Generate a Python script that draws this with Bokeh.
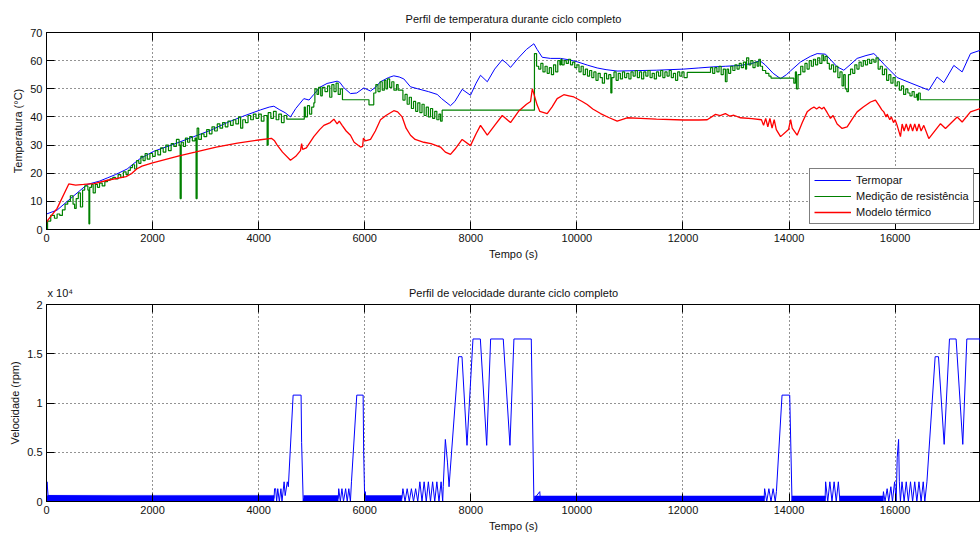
from bokeh.plotting import figure
from bokeh.layouts import column
from bokeh.models import Range1d, FixedTicker, LinearAxis, CustomJSTickFormatter, Legend
from bokeh.embed import file_html
from bokeh.resources import INLINE

FONT = "Liberation Sans"

# ---------------- data: temperature (°C) vs time (s) ----------------
termopar_t = [0, 200, 516, 767, 1000, 1144, 1300, 1521, 1650, 1773, 2024, 2400, 2778, 3100, 3407, 3700,
              4035, 4200, 4287, 4400, 4500, 4600, 4700, 4852, 4950, 5040, 5150, 5291, 5480, 5530, 5600,
              5731, 5850, 5983, 6109, 6200, 6297, 6450, 6548, 6650, 6737, 6863, 7000, 7200, 7366, 7450,
              7617, 7700, 7837, 7994, 8100, 8183, 8311, 8450, 8593, 8680, 8749, 8900, 9050, 9189, 9250,
              9346, 9500, 9691, 9850, 10006, 10200, 10383, 10550, 10760, 11000, 11500, 12017, 12300,
              12582, 12800, 13085, 13300, 13450, 13550, 13700, 13840, 13950, 14025, 14215, 14400, 14530,
              14687, 14800, 14907, 15033, 15150, 15284, 15450, 15599, 15661, 15800, 16038, 16300, 16635,
              16792, 16918, 17107, 17264, 17421, 17610, 17660]
termopar_v = [5.5, 6.9, 12.0, 16.0, 17.2, 18.3, 19.5, 21.5, 23.5, 25.3, 27.8, 30.3, 33.0, 35.3, 38.0, 40.2,
              42.5, 43.5, 43.8, 42.5, 41.5, 40.0, 43.0, 46.5, 46.0, 48.0, 50.5, 51.9, 52.7, 52.3, 50.5,
              48.3, 48.5, 50.3, 49.2, 50.5, 52.5, 54.0, 54.6, 54.2, 53.5, 50.7, 50.0, 49.0, 48.0, 46.5,
              44.0, 45.5, 49.8, 47.7, 52.0, 54.8, 52.5, 57.0, 60.3, 59.0, 57.6, 61.0, 64.0, 66.0, 64.0,
              61.2, 60.8, 60.8, 60.3, 59.6, 58.4, 57.4, 56.8, 56.3, 56.4, 56.6, 57.0, 57.4,
              57.8, 58.0, 58.3, 59.0, 60.0, 58.5, 55.5, 53.6, 55.0, 56.3, 59.5, 61.5, 62.5,
              62.3, 60.0, 57.8, 56.6, 58.5, 60.8, 61.8, 62.5, 61.4, 58.5, 54.0, 52.0, 49.5,
              54.2, 52.2, 58.3, 56.0, 62.5, 63.7, 63.9]

resist_t = [0, 20, 80, 150, 200, 250, 300, 350, 400, 450, 500, 530, 560, 600, 640, 680, 720, 780, 800, 815,
            850, 880, 920, 960, 1000, 1050, 1100, 1150, 1200, 1250, 1300, 1350, 1400, 1450, 1500, 1540,
            1580, 1620, 1660, 1700, 1740, 1780, 1820, 1860, 1900, 1950, 2000, 2050, 2100, 2150, 2200,
            2250, 2300, 2350, 2400, 2450, 2500, 2520, 2540, 2580, 2620, 2660, 2700, 2750, 2800, 2820,
            2840, 2870, 2920, 2970, 3020, 3070, 3120, 3170, 3220, 3270, 3320, 3370, 3420, 3470, 3520,
            3570, 3620, 3660, 3700, 3750, 3800, 3850, 3900, 3950, 4000, 4050, 4100, 4160, 4180, 4230,
            4280, 4330, 4380, 4430, 4480, 4530, 4860, 4880, 4920, 4960, 5000, 5040, 5060, 5100, 5130,
            5170, 5200, 5250, 5300, 5340, 5380, 5420, 5460, 5500, 5540, 5580, 6080, 6170, 6210, 6250,
            6290, 6330, 6370, 6400, 6430, 6470, 6510, 6550, 6600, 6630, 6720, 6760, 6800, 6840, 6880,
            6920, 6960, 7000, 7040, 7080, 7120, 7160, 7200, 7240, 7280, 7320, 7360, 7400, 7430, 7460,
            9200, 9240, 9280, 9320, 9360, 9400, 9440, 9480, 9520, 9560, 9600, 9640, 9680, 9700, 9720,
            9760, 9800, 9840, 9880, 9920, 9960, 10000, 10040, 10080, 10120, 10160, 10200, 10240, 10280,
            10320, 10360, 10400, 10440, 10480, 10520, 10560, 10600, 10640, 10660, 10700, 10740, 10780,
            10820, 10860, 10900, 10940, 10980, 11020, 11060, 11100, 11140, 11180, 11220, 11260, 11300,
            11340, 11380, 11420, 11460, 11500, 11540, 11580, 11620, 11660, 11700, 11740, 11780, 11820,
            11860, 11900, 11940, 11980, 12020, 12080, 12520, 12560, 12600, 12640, 12680, 12720, 12760,
            12800, 12830, 12860, 12900, 12940, 12980, 13020, 13060, 13100, 13140, 13180, 13200, 13240,
            13280, 13320, 13360, 13400, 13430, 13460, 13500, 13560, 13620, 13660, 14090, 14120, 14140,
            14170, 14220, 14260, 14300, 14340, 14380, 14420, 14460, 14500, 14540, 14580, 14620, 14650,
            14680, 14720, 14760, 14800, 14840, 14880, 14920, 14960, 15000, 15030, 15060, 15090, 15120,
            15160, 15200, 15240, 15280, 15320, 15360, 15400, 15440, 15480, 15520, 15560, 15600, 15640,
            15680, 15720, 15760, 15800, 15840, 15880, 15920, 15960, 16000, 16040, 16080, 16120, 16160,
            16200, 16240, 16280, 16320, 16360, 16400, 16420, 16440, 16474, 17660]
resist_v = [0.0, 3.0, 5.0, 4.0, 5.5, 5.0, 7.0, 9.0, 10.0, 12.0, 9.0, 7.5, 11.0, 13.0, 8.0, 14.0, 15.5, 14.0, 2.0, 15.0,
            16.0, 13.0, 16.0, 15.0, 16.5, 15.5, 17.0, 17.5, 18.0, 18.5, 18.0, 19.5, 18.5, 20.5, 19.5, 21.0,
            22.0, 23.0, 21.5, 24.5, 23.5, 26.0, 24.5, 27.0, 25.0, 27.0, 26.0, 28.0, 26.5, 29.0, 27.5,
            30.0, 28.0, 30.5, 29.5, 32.0, 30.0, 11.0, 31.0, 29.5, 32.5, 31.0, 33.0, 31.5, 32.5, 11.0,
            36.0, 32.0, 34.0, 33.0, 35.5, 34.0, 36.5, 35.0, 37.5, 36.0, 38.0, 36.5, 38.5, 37.0, 39.0,
            37.5, 40.0, 36.0, 39.0, 38.0, 40.5, 39.0, 41.0, 39.5, 41.0, 38.5, 40.5, 30.0, 41.5, 39.5,
            42.0, 39.0, 41.0, 38.0, 40.5, 39.2, 43.5, 40.0, 44.0, 41.0, 43.5, 45.0, 50.0, 48.0, 50.5,
            47.5, 50.5, 49.0, 51.0, 47.0, 51.5, 49.0, 52.0, 48.0, 50.0, 46.1, 44.3, 48.5, 51.5, 49.0,
            52.5, 49.5, 53.0, 50.0, 53.5, 50.5, 52.5, 49.5, 51.5, 49.5, 46.0, 48.0, 44.5, 47.0, 43.0,
            45.5, 42.0, 45.0, 41.5, 44.5, 40.5, 43.5, 40.0, 43.0, 39.5, 42.0, 39.0, 41.0, 38.5, 42.4,
            62.5, 58.0, 57.0, 59.0, 56.0, 58.0, 55.5, 57.5, 55.0, 58.5, 56.0, 60.0, 58.5, 60.5, 58.5,
            60.0, 59.0, 60.5, 58.5, 59.5, 57.5, 58.5, 56.0, 58.0, 55.0, 57.0, 54.5, 56.5, 54.0,
            56.0, 53.0, 55.5, 54.0, 52.0, 55.5, 53.5, 55.0, 48.5, 54.0, 56.0, 53.0, 55.5,
            53.5, 56.0, 54.0, 55.5, 53.5, 56.0, 54.5, 56.5, 54.0, 56.0, 53.5, 56.0, 54.5,
            56.5, 54.0, 55.5, 53.5, 56.0, 54.5, 56.5, 54.0, 56.0, 54.5, 56.5, 54.0, 55.5,
            53.0, 56.0, 54.5, 56.0, 54.0, 55.8, 57.5, 55.5, 57.5, 56.0, 58.0, 55.0, 57.0,
            52.5, 57.0, 55.5, 58.0, 56.5, 58.5, 57.0, 59.0, 57.5, 59.5, 57.0, 61.0, 58.5,
            60.0, 57.5, 59.5, 58.0, 60.5, 58.0, 56.5, 55.5, 54.5, 53.8, 52.0, 56.0, 50.0,
            55.0, 58.0, 56.0, 59.0, 57.0, 60.0, 58.0, 60.5, 58.5, 61.0, 59.0, 62.0, 60.0,
            61.5, 59.0, 57.0, 58.5, 56.0, 58.0, 54.0, 56.0, 51.0, 55.0, 50.0, 49.0, 55.0,
            57.0, 55.5, 58.5, 57.0, 59.5, 58.0, 60.0, 58.5, 60.5, 59.0, 60.5, 59.5, 61.0,
            57.0, 58.0, 55.0, 57.0, 53.0, 55.0, 52.0, 54.0, 51.0, 52.5, 49.5, 51.0, 48.0,
            50.0, 48.5, 47.5, 49.0, 47.0, 48.0, 46.0, 48.5, 46.1, 46.1]

modelo_t = [0, 25, 200, 420, 550, 700, 900, 1150, 1500, 1600, 1700, 1800, 2000, 2500, 2800, 3200, 3600,
            4000, 4240, 4300, 4350, 4450, 4600, 4700, 4789, 4810, 4830, 4900, 5040, 5150, 5229, 5350,
            5418, 5480, 5520, 5574, 5650, 5731, 5800, 5920, 5960, 5975, 6014, 6109, 6200, 6297, 6400,
            6548, 6620, 6706, 6780, 6863, 6950, 7114, 7250, 7428, 7520, 7617, 7700, 7837, 7994, 8100,
            8183, 8311, 8450, 8593, 8749, 8900, 9050, 9127, 9160, 9177, 9251, 9300, 9440, 9530, 9628,
            9754, 9850, 9943, 10100, 10194, 10300, 10446, 10600, 10760, 10948, 11200, 11500, 12017,
            12300, 12457, 12614, 12700, 12800, 12880, 12960, 13085, 13300, 13480, 13520, 13560, 13600,
            13640, 13680, 13720, 13760, 13840, 13990, 14030, 14060, 14153, 14250, 14342, 14420, 14470,
            14520, 14570, 14620, 14656, 14720, 14781, 14830, 14907, 15001, 15096, 15200, 15284, 15400,
            15536, 15630, 15700, 15750, 15787, 15830, 15850, 15900, 15930, 15970, 16000, 16038, 16101,
            16133, 16170, 16210, 16250, 16290, 16330, 16370, 16410, 16450, 16490, 16541, 16635, 16856,
            16950, 17170, 17264, 17421, 17610, 17660]
modelo_v = [2.5, 3.3, 7.5, 16.2, 15.8, 16.0, 16.3, 17.5, 18.8, 19.8, 21.5, 22.5, 23.7, 26.2, 27.5, 29.3, 30.7,
            31.8, 32.4, 31.5, 30.0, 27.5, 24.6, 26.0, 28.0, 30.5, 28.5, 29.0, 33.0, 35.5, 37.0, 38.0,
            39.2, 37.5, 38.5, 37.0, 35.0, 33.5, 31.0, 29.3, 29.5, 32.5, 31.5, 32.0, 35.0, 39.0, 40.5,
            42.2, 41.8, 40.0, 36.0, 33.5, 32.0, 31.0, 30.5, 29.3, 27.5, 26.7, 28.5, 32.0, 29.8, 34.0,
            37.0, 33.5, 37.0, 40.5, 38.0, 42.0, 44.5, 45.5, 50.0, 49.0, 44.2, 42.0, 41.2, 43.5, 46.5,
            47.9, 47.5, 47.1, 45.5, 44.4, 42.8, 41.2, 39.8, 38.5, 39.7, 39.5, 39.2, 38.9,
            38.9, 39.0, 40.9, 40.5, 41.2, 40.3, 40.6, 39.7, 39.4, 39.0, 37.0, 39.5, 36.5,
            39.5, 36.0, 39.0, 35.5, 33.0, 35.5, 39.0, 36.0, 33.5, 38.0, 41.8, 43.0, 43.5,
            42.8, 43.5, 42.8, 43.5, 41.5, 39.5, 40.5, 37.5, 35.9, 36.5, 39.5, 41.8, 43.5,
            45.3, 46.0, 44.0, 42.5, 41.8, 40.0, 41.0, 39.0, 40.0, 38.0, 39.0, 37.0, 33.0,
            37.5, 35.0, 37.5, 35.0, 37.5, 35.0, 37.5, 35.0, 37.5, 35.0, 37.0, 32.3, 37.6,
            35.9, 40.0, 38.2, 41.8, 43.0, 43.2]

# ---------------- data: speed (rpm) vs time (s) ----------------
speed_t = [0, 10, 30, 4290, 4300, 4320, 4340, 4360, 4390, 4420, 4440, 4480, 4500, 4540, 4560, 4650, 4800,
           4810, 4840, 4850, 5500, 5510, 5540, 5570, 5600, 5640, 5670, 5700, 5730, 5750, 5850, 5970,
           5980, 6000, 6010, 6020, 6700, 6720, 6760, 6800, 6840, 6880, 6920, 6960, 7000, 7040, 7080,
           7120, 7160, 7200, 7240, 7280, 7320, 7360, 7400, 7440, 7470, 7480, 7520, 7560, 7590, 7610,
           7770, 7834, 7928, 8041, 8180, 8300, 8374, 8612, 8738, 8813, 9140, 9190, 9200, 9300, 9310,
           13530, 13540, 13580, 13620, 13660, 13700, 13740, 13762, 13868, 14013, 14056, 14066, 14680,
           14690, 14730, 14770, 14810, 14850, 14890, 14930, 14960, 14970, 15770, 15780, 15810, 15850,
           15880, 15920, 15950, 15990, 16020, 16040, 16066, 16080, 16100, 16130, 16170, 16210, 16250,
           16290, 16330, 16370, 16410, 16450, 16490, 16530, 16560, 16600, 16755, 16818, 16925, 17025,
           17150, 17276, 17352, 17600, 17660]
speed_v = [0, 2000, 600, 300, 1300, 1300, 0, 1300, 0, 1300, 0, 2000, 600, 2000, 1500, 10800, 10800,
           6000, 0, 300, 300, 1300, 0, 1300, 0, 1300, 0, 1300, 0, 2000, 10800, 10800,
           5000, 0, 1000, 300, 300, 1300, 0, 1300, 0, 1300, 0, 1300, 0, 2000, 0,
           2000, 0, 2000, 0, 2000, 0, 2000, 0, 2000, 0, 1500, 6300, 4000, 1500, 3000,
           14700, 14700, 5700, 16500, 16500, 5700, 16500, 16500, 5700, 16500, 16500, 0, 300, 1000, 300,
           300, 1300, 0, 1300, 0, 1300, 0, 1000, 10800, 10800, 0, 300, 300,
           2000, 0, 2000, 0, 2000, 0, 2000, 0, 300, 300, 1000, 0, 1300,
           0, 1500, 0, 2000, 0, 4500, 6300, 2000, 0, 2000, 0, 2000, 0,
           2000, 0, 2000, 0, 2000, 0, 2000, 0, 2000, 14700, 14700, 5800, 16500,
           16500, 5800, 16500, 16500, 13000]

# dense low-speed oscillation bands: start, end, upper level (rpm)
band_start = [0, 4850, 6010, 9200, 14056, 14960]
band_end = [4290, 5500, 6700, 13540, 14690, 15780]
band_top = [620, 600, 600, 560, 560, 560]

temp_ticks = [0, 10, 20, 30, 40, 50, 60, 70]
speed_ticks = [0, 5000, 10000, 15000, 20000]
time_ticks = [0, 2000, 4000, 6000, 8000, 10000, 12000, 14000, 16000]

TITLE_1 = "Perfil de temperatura durante ciclo completo"
TITLE_2 = "Perfil de velocidade durante ciclo completo"
MULTIPLIER = "x 10⁴"

X_END = 17610          # visible end of the time axis (the figure is cut at the window edge)
X_MID = X_END // 2     # where the panel titles are centred
X_MULT = 260           # where the "x 10^4" multiplier sits (time units)

BLUE = "#0000ff"
GREEN = "#008000"
RED = "#ff0000"
TXT = "#111111"


def style_axis(ax):
    ax.major_tick_in = 8
    ax.major_tick_out = 0
    ax.minor_tick_in = 0
    ax.minor_tick_out = 0
    ax.axis_line_color = "black"
    ax.major_tick_line_color = "black"
    ax.minor_tick_line_color = "black"
    ax.major_label_text_font = FONT
    ax.major_label_text_font_size = "11px"
    ax.major_label_text_color = TXT
    ax.axis_label_text_font = FONT
    ax.axis_label_text_font_size = "11px"
    ax.axis_label_text_font_style = "normal"
    ax.axis_label_text_color = TXT
    ax.major_label_standoff = 4
    ax.axis_label_standoff = 3


def frame_axis(ticks, where, p):
    # tick marks only (as minor ticks, so no labels): MATLAB box ticks on top / right
    ax = LinearAxis(ticker=FixedTicker(ticks=[], minor_ticks=ticks))
    style_axis(ax)
    ax.major_tick_in = 0
    ax.minor_tick_in = 8
    ax.minor_tick_out = 0
    ax.major_label_standoff = 0
    p.add_layout(ax, where)
    return ax


def style(p, yticks):
    p.background_fill_color = "white"
    p.border_fill_color = "white"
    p.outline_line_color = "black"
    bottom = p.below[0]
    left = p.left[0]
    bottom.ticker = FixedTicker(ticks=time_ticks)
    left.ticker = FixedTicker(ticks=yticks)
    style_axis(bottom)
    style_axis(left)
    frame_axis(yticks, "right", p)
    p.xgrid.grid_line_color = "black"
    p.ygrid.grid_line_color = "black"
    p.xgrid.grid_line_dash = "1 3"
    p.ygrid.grid_line_dash = "1 3"
    p.xgrid.grid_line_alpha = 0.85
    p.ygrid.grid_line_alpha = 0.85


# ---------------- temperature plot ----------------
p1 = figure(width=980, height=267, x_range=Range1d(0, X_END), y_range=Range1d(0, 70),
            output_backend="svg", toolbar_location=None,
            min_border_left=46, min_border_right=0, min_border_top=32, min_border_bottom=38,
            title=TITLE_1)
p1.xaxis.axis_label = "Tempo (s)"
p1.yaxis.axis_label = "Temperatura (°C)"
style(p1, temp_ticks)
frame_axis(time_ticks, "above", p1)
p1.title.text_font = FONT
p1.title.text_font_size = "11px"
p1.title.text_font_style = "normal"
p1.title.align = "center"
p1.title.text_color = TXT
p1.title.standoff = 15

r_b = p1.line(termopar_t, termopar_v, line_color=BLUE, line_width=1)
r_g = p1.step(resist_t, resist_v, mode="after", line_color=GREEN, line_width=1.2)
r_r = p1.line(modelo_t, modelo_v, line_color=RED, line_width=1.3)

legend = Legend(items=[("Termopar", [r_b]), ("Medição de resistência", [r_g]), ("Modelo térmico", [r_r])],
                location=(763, 5), orientation="vertical")
legend.label_text_font = FONT
legend.label_text_font_size = "11px"
legend.label_text_color = TXT
legend.glyph_width = 37
legend.glyph_height = 14
legend.label_height = 14
legend.label_standoff = 5
legend.spacing = 2
legend.padding = 4
legend.margin = 0
legend.border_line_color = "black"
legend.border_line_width = 1
legend.background_fill_color = "white"
legend.background_fill_alpha = 1
p1.add_layout(legend, "center")

# ---------------- speed plot ----------------
p2 = figure(width=980, height=267, x_range=Range1d(0, X_END), y_range=Range1d(0, 20000),
            output_backend="svg", toolbar_location=None,
            min_border_left=46, min_border_right=0, min_border_top=37, min_border_bottom=32)
p2.xaxis.axis_label = "Tempo (s)"
p2.yaxis.axis_label = "Velocidade (rpm)"
style(p2, speed_ticks)
p2.left[0].formatter = CustomJSTickFormatter(code="return (tick / 10000).toString();")

# top edge: box ticks plus the title and the MATLAB-style exponent on one line
top2 = frame_axis(time_ticks, "above", p2)
top2.ticker = FixedTicker(ticks=[X_MULT, X_MID], minor_ticks=time_ticks)
top2.major_label_overrides = {X_MULT: MULTIPLIER, X_MID: TITLE_2}
top2.major_label_standoff = 6

p2.quad(left=band_start, right=band_end, bottom=[0] * len(band_start), top=band_top,
        fill_color=BLUE, line_color=BLUE, line_width=0.5)
p2.line(speed_t, speed_v, line_color=BLUE, line_width=1)

layout = column(p1, p2, spacing=0)
open("out.html", "w").write(file_html(layout, INLINE))
